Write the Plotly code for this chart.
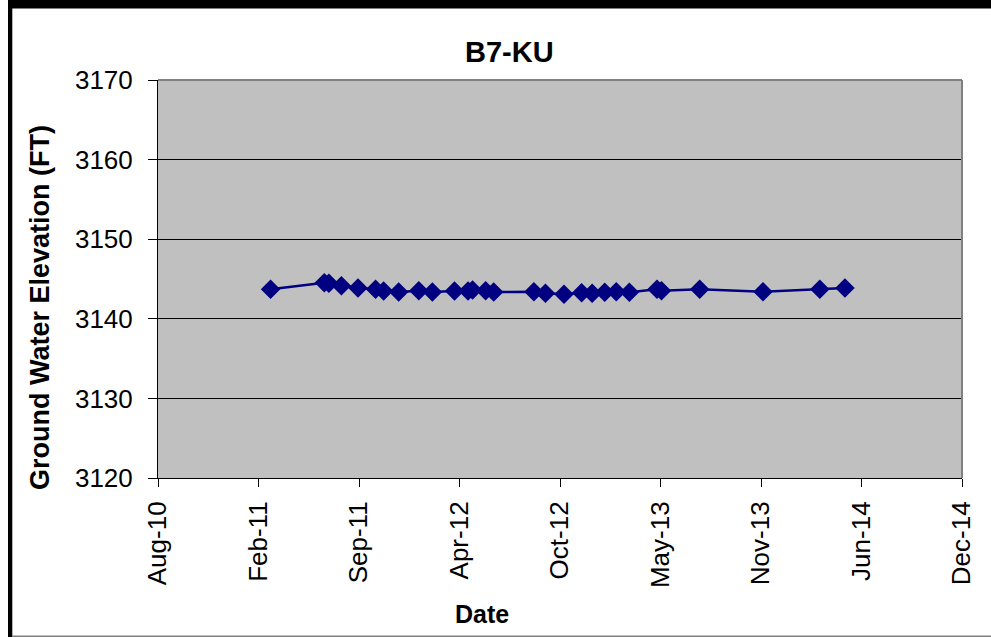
import plotly.graph_objects as go

dates = [
    "2011-03-22", "2011-07-07", "2011-07-16", "2011-08-10", "2011-09-12",
    "2011-10-17", "2011-11-02", "2011-12-02", "2012-01-11", "2012-02-07",
    "2012-03-22", "2012-04-18", "2012-04-27", "2012-05-23", "2012-06-08",
    "2012-08-27", "2012-09-19", "2012-10-26", "2012-11-30", "2012-12-21",
    "2013-01-15", "2013-02-07", "2013-03-05", "2013-04-29", "2013-05-08",
    "2013-07-23", "2013-11-26", "2014-03-19", "2014-05-08",
]
elevation = [
    3143.71, 3144.53, 3144.46, 3144.16, 3143.87,
    3143.71, 3143.49, 3143.37, 3143.53, 3143.37,
    3143.49, 3143.49, 3143.62, 3143.53, 3143.37,
    3143.40, 3143.20, 3143.08, 3143.28, 3143.20,
    3143.33, 3143.40, 3143.33, 3143.71, 3143.53,
    3143.71, 3143.40, 3143.71, 3143.87,
]
x_tick_dates = ["2010-08-10", "2011-02-26", "2011-09-14", "2012-04-01",
                "2012-10-18", "2013-05-06", "2013-11-22", "2014-06-10",
                "2014-12-27"]
x_tick_labels = ["Aug-10", "Feb-11", "Sep-11", "Apr-12", "Oct-12",
                 "May-13", "Nov-13", "Jun-14", "Dec-14"]
y_ticks = [3120, 3130, 3140, 3150, 3160, 3170]

FONT = "Arial, Liberation Sans, sans-serif"
W, H = 991, 637
L, R, T, B = 158, 29, 80, 159
pw, ph = W - L - R, H - T - B

def px(xp):
    return (xp - L) / pw

def py(yp):
    return (H - B - yp) / ph

fig = go.Figure()
fig.add_trace(go.Scatter(
    x=dates, y=elevation, mode="lines+markers",
    line=dict(color="#000080", width=2.5),
    marker=dict(symbol="diamond", size=15, color="#000080"),
    showlegend=False,
))

fig.update_layout(
    width=W, height=H,
    margin=dict(l=L, r=R, t=T, b=B),
    paper_bgcolor="white",
    plot_bgcolor="#C0C0C0",
    font=dict(family=FONT, color="black"),
    xaxis=dict(
        range=[x_tick_dates[0], x_tick_dates[-1]],
        tickvals=x_tick_dates, ticktext=x_tick_labels,
        tickangle=-90, tickfont=dict(size=26, family=FONT),
        ticks="outside", ticklen=8, tickcolor="black",
        showgrid=False, zeroline=False,
        showline=True, linecolor="black", linewidth=1,
        ticklabelstandoff=4,
    ),
    yaxis=dict(
        range=[3120, 3170], tickvals=y_ticks,
        tickfont=dict(size=26, family=FONT),
        ticks="outside", ticklen=9, tickcolor="black",
        showgrid=True, gridcolor="black", gridwidth=1,
        zeroline=False,
        showline=True, linecolor="black", linewidth=1,
        ticklabelstandoff=10,
    ),
    shapes=[
        dict(type="line", xref="paper", yref="paper", x0=0, x1=1, y0=1, y1=1,
             line=dict(color="#808080", width=2)),
        dict(type="line", xref="paper", yref="paper", x0=1, x1=1, y0=0, y1=1,
             line=dict(color="#808080", width=2)),
        # outer chart border: left (black), top (black), bottom (gray)
        dict(type="rect", xref="paper", yref="paper",
             x0=px(8), x1=px(12.3), y0=py(640), y1=py(3),
             fillcolor="black", line=dict(width=0)),
        dict(type="rect", xref="paper", yref="paper",
             x0=px(8), x1=px(995), y0=py(8.5), y1=py(0),
             fillcolor="black", line=dict(width=0)),
        dict(type="rect", xref="paper", yref="paper",
             x0=px(12), x1=px(995), y0=py(637), y1=py(635.5),
             fillcolor="#808080", line=dict(width=0)),
    ],
    annotations=[
        dict(text="<b>B7-KU</b>", xref="paper", yref="paper", x=px(509), y=py(52),
             xanchor="center", yanchor="middle", showarrow=False,
             font=dict(size=29, family=FONT, color="black")),
        dict(text="<b>Date</b>", xref="paper", yref="paper", x=px(482), y=py(614),
             xanchor="center", yanchor="middle", showarrow=False,
             font=dict(size=25, family=FONT, color="black")),
        dict(text="<b>Ground Water Elevation (FT)</b>", xref="paper", yref="paper",
             x=px(40), y=py(308), textangle=-90,
             xanchor="center", yanchor="middle", showarrow=False,
             font=dict(size=27, family=FONT, color="black")),
    ],
)

post = (
    "document.documentElement.style.overflow='hidden';"
    "document.body.style.margin='0';"
    "document.body.style.overflow='hidden';"
    "window.scrollTo(0,0);"
)

fig.write_html(
    "out.html",
    config={"displayModeBar": False},
    post_script=post,
)
